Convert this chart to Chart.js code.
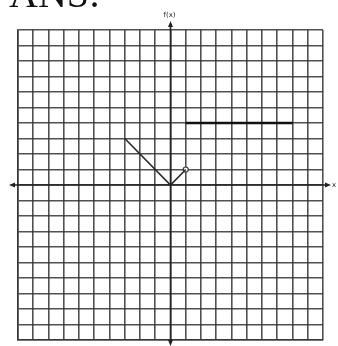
<!DOCTYPE html>
<html>
<head>
<meta charset="utf-8">
<script src="https://cdn.jsdelivr.net/npm/chart.js@4/dist/chart.umd.min.js"></script>
<style>
  html, body { margin: 0; padding: 0; background: #fff; }
  #wrap { position: relative; width: 338px; height: 346px; }
</style>
</head>
<body>
<div id="wrap"><canvas id="c" width="338" height="346"></canvas></div>
<script>
// Piecewise graph of f(x) on a 20 x 20 grid
const gridMin = -10;
const gridMax = 10;

// V-shaped piece: from (-3, 3) down to (0, 0), up to an open point at (1, 1)
const vX = [-3, 0, 1];
const vY = [3, 0, 1];

// Constant piece: f(x) = 4 from x = 1 to x = 8
const flatX = [1, 8];
const flatY = [4, 4];

// Open endpoint
const openX = [1];
const openY = [1];

const toPoints = (xs, ys) => xs.map((x, i) => ({ x, y: ys[i] }));

const gridColor = 'rgba(50,50,50,0.85)';

const axesPlugin = {
  id: 'axesPlugin',
  beforeDraw(chart) {
    const ctx = chart.ctx;
    ctx.save();
    ctx.fillStyle = '#fff';
    ctx.fillRect(0, 0, chart.width, chart.height);
    // heading, partly above the page edge
    ctx.fillStyle = '#111';
    ctx.font = '40px "Liberation Serif"';
    ctx.textBaseline = 'alphabetic';
    ctx.fillText('ANS:', 9, 7);
    ctx.restore();
  },
  afterDatasetsDraw(chart) {
    const ctx = chart.ctx;
    const xs = chart.scales.x, ys = chart.scales.y;
    const x0 = xs.getPixelForValue(0);
    const y0 = ys.getPixelForValue(0);
    ctx.save();
    ctx.strokeStyle = '#222';
    ctx.fillStyle = '#222';
    ctx.lineWidth = 1.6;
    // x axis
    ctx.beginPath();
    ctx.moveTo(12, y0); ctx.lineTo(328, y0);
    ctx.stroke();
    // y axis
    ctx.beginPath();
    ctx.moveTo(x0, 24); ctx.lineTo(x0, 343);
    ctx.stroke();
    const tri = (pts) => {
      ctx.beginPath();
      ctx.moveTo(pts[0][0], pts[0][1]);
      ctx.lineTo(pts[1][0], pts[1][1]);
      ctx.lineTo(pts[2][0], pts[2][1]);
      ctx.closePath();
      ctx.fill();
    };
    tri([[9, y0], [15, y0 - 2.5], [15, y0 + 2.5]]);
    tri([[331, y0], [325, y0 - 2.5], [325, y0 + 2.5]]);
    tri([[x0, 21], [x0 - 2.5, 27], [x0 + 2.5, 27]]);
    tri([[x0, 346], [x0 - 2.5, 340], [x0 + 2.5, 340]]);
    ctx.font = '7px "DejaVu Sans"';
    ctx.textAlign = 'center';
    ctx.textBaseline = 'middle';
    ctx.fillText('f(x)', x0 - 1, 15);
    ctx.textAlign = 'left';
    ctx.fillText('x', 332, y0);
    ctx.restore();
  }
};

new Chart(document.getElementById('c'), {
  type: 'scatter',
  data: {
    datasets: [
      {
        data: toPoints(vX, vY),
        showLine: true,
        borderColor: '#2a2a2a',
        borderWidth: 1.6,
        pointRadius: 0,
        tension: 0
      },
      {
        data: toPoints(flatX, flatY),
        showLine: true,
        borderColor: '#111',
        borderWidth: 2.6,
        pointRadius: 0,
        tension: 0
      },
      {
        data: toPoints(openX, openY),
        showLine: false,
        pointRadius: 2.5,
        pointBorderWidth: 1.2,
        pointBorderColor: '#333',
        pointBackgroundColor: '#fff'
      }
    ]
  },
  options: {
    responsive: false,
    animation: false,
    layout: { padding: { left: 18, right: 15, top: 30, bottom: 6 } },
    plugins: { legend: { display: false }, tooltip: { enabled: false } },
    scales: {
      x: {
        type: 'linear', min: gridMin, max: gridMax,
        ticks: { display: false, stepSize: 1 },
        grid: { color: gridColor, lineWidth: 1.6, drawTicks: false },
        border: { display: true, color: gridColor, width: 1.6 }
      },
      y: {
        type: 'linear', min: gridMin, max: gridMax,
        ticks: { display: false, stepSize: 1 },
        grid: { color: gridColor, lineWidth: 1.6, drawTicks: false },
        border: { display: true, color: gridColor, width: 1.6 }
      }
    }
  },
  plugins: [axesPlugin]
});
</script>
</body>
</html>
